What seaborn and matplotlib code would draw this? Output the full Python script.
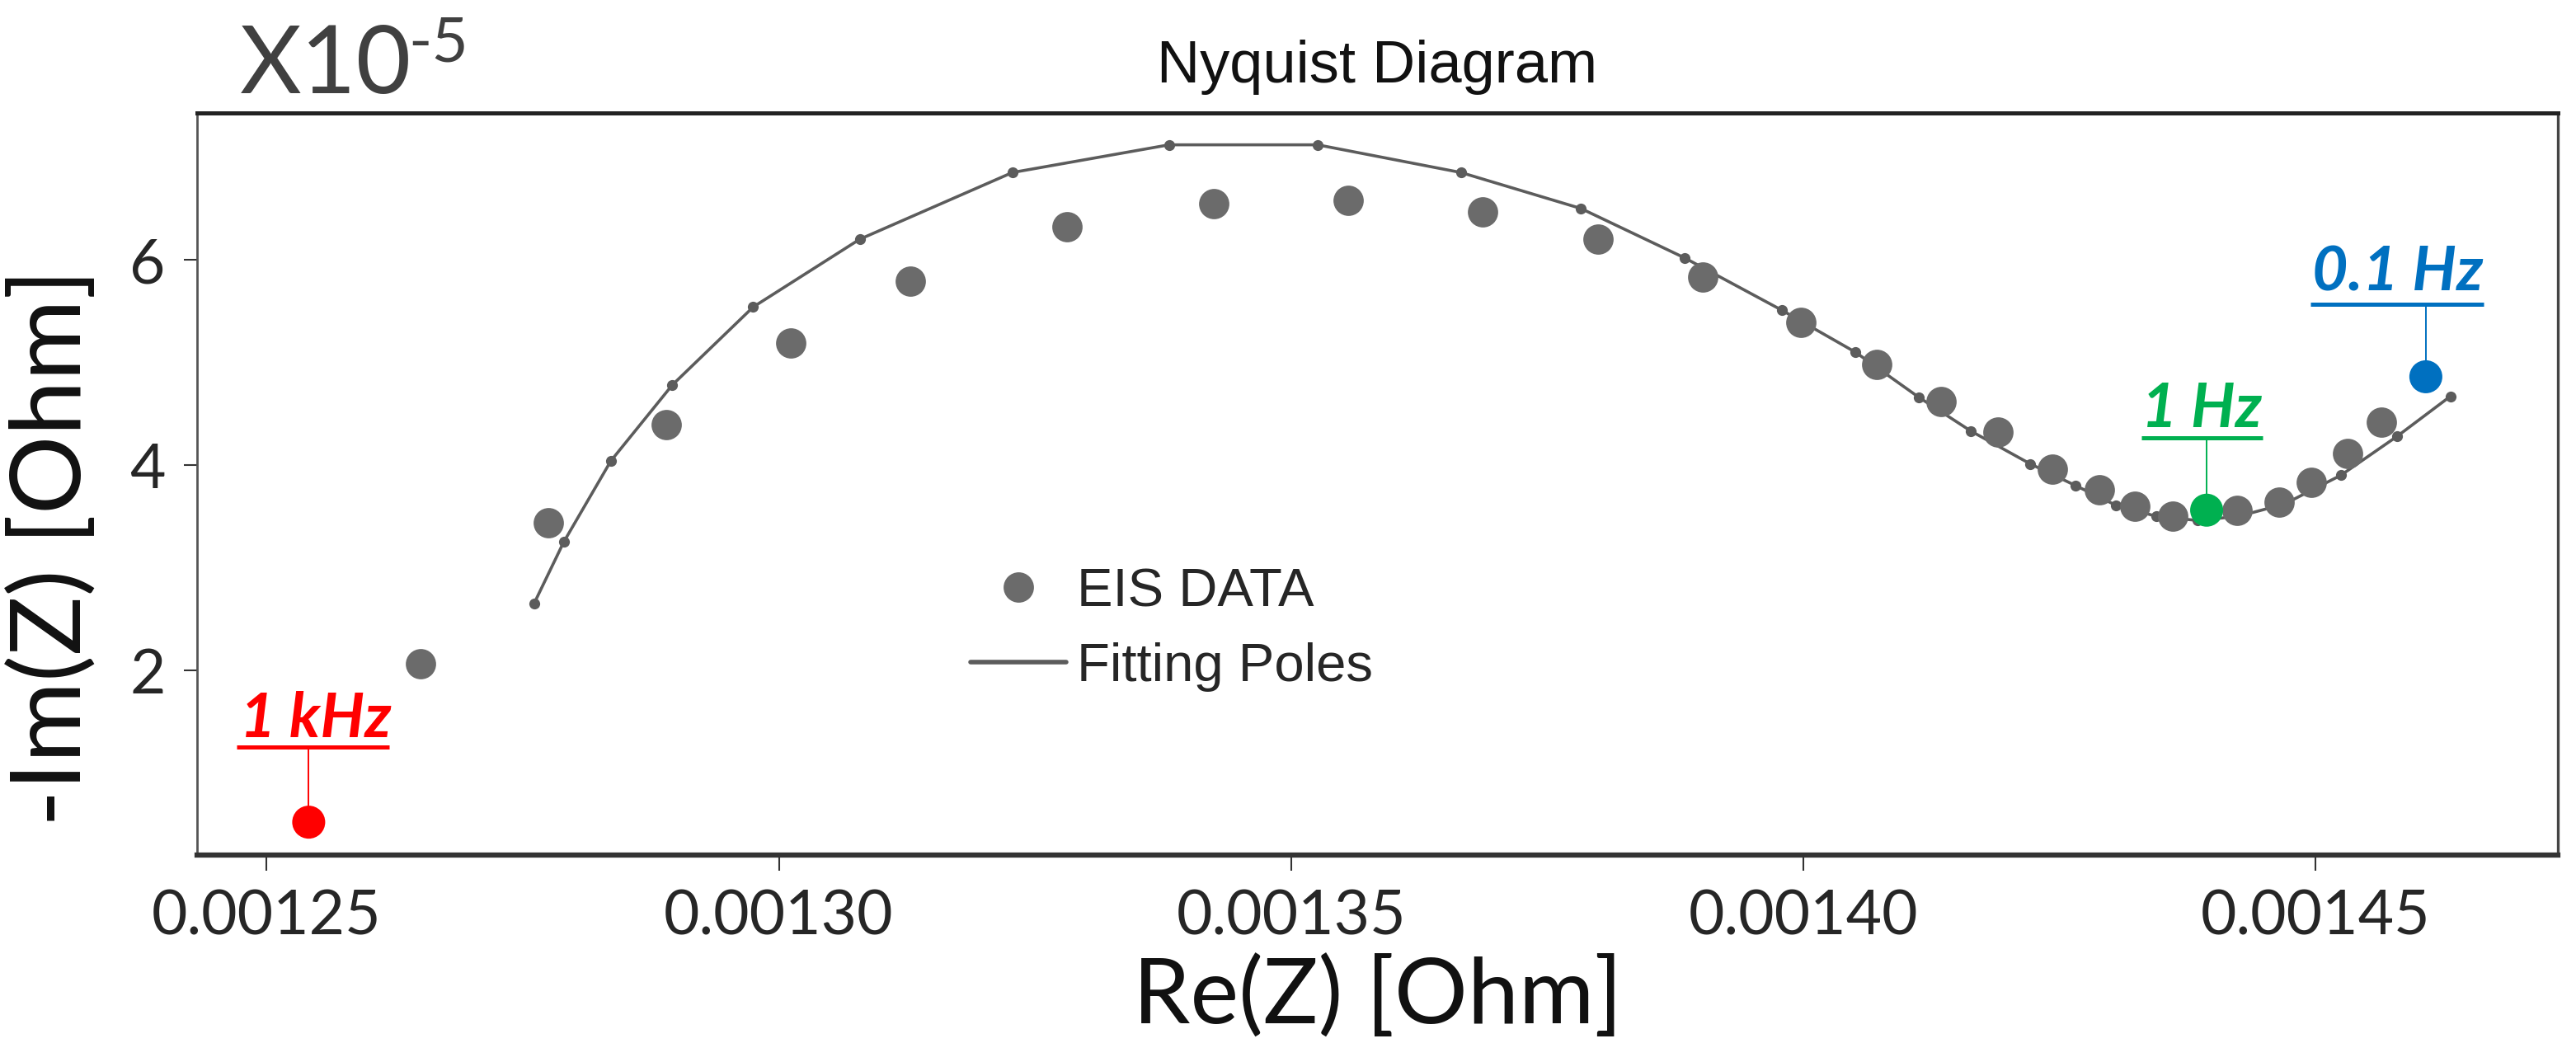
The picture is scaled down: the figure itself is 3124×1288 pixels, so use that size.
import numpy as np
import pandas as pd
import matplotlib.pyplot as plt
import seaborn as sns
from matplotlib.lines import Line2D
from matplotlib.transforms import IdentityTransform
from matplotlib.ticker import FormatStrFormatter

# EIS measured points (grey)
re_data = [0.0012650, 0.0012775, 0.0012890, 0.0013012, 0.0013128, 0.0013281,
           0.0013425, 0.0013556, 0.0013687, 0.0013800, 0.0013902, 0.0013998,
           0.0014072, 0.0014135, 0.0014190, 0.0014243, 0.0014289, 0.0014324,
           0.0014361, 0.0014424, 0.0014465, 0.0014496, 0.0014532, 0.0014565]
im_data = [2.06, 3.44, 4.39, 5.19, 5.79, 6.32, 6.55, 6.58, 6.47, 6.20, 5.83, 5.39,
           4.98, 4.62, 4.32, 3.96, 3.76, 3.60, 3.50, 3.56, 3.64, 3.83, 4.11, 4.42]

# fitted curve
re_fit = [0.0012761, 0.0012790, 0.0012836, 0.0012896, 0.0012975, 0.0013079,
          0.0013228, 0.0013381, 0.0013526, 0.0013666, 0.0013783, 0.0013884,
          0.0013979, 0.0014051, 0.0014113, 0.0014164, 0.0014222, 0.0014266,
          0.0014305, 0.0014345, 0.0014385, 0.0014425, 0.0014470, 0.0014525,
          0.0014580, 0.0014632]
im_fit = [2.65, 3.25, 4.04, 4.78, 5.54, 6.20, 6.85, 7.12, 7.12, 6.85, 6.50, 6.02,
          5.51, 5.10, 4.66, 4.33, 4.01, 3.80, 3.61, 3.50, 3.46, 3.50, 3.62, 3.90,
          4.28, 4.67]

# highlighted frequencies
freq_labels = ['1 kHz', '1 Hz', '0.1 Hz']
freq_re = [0.0012541, 0.0014394, 0.0014608]
freq_im = [0.52, 3.56, 4.86]
freq_colors = ['#ff0000', '#00b050', '#0070c0']

x_ticks = [0.00125, 0.00130, 0.00135, 0.00140, 0.00145]
y_ticks = [2, 4, 6]

sns.set_style('ticks')
plt.rcParams['font.family'] = ['Lato', 'DejaVu Sans']

fig = plt.figure(figsize=(31.24, 12.88), dpi=100)
ax = fig.add_axes([0.0765, 0.1949, 0.9165, 0.6987])

grey_pt = '#6b6b6b'
grey_ln = '#5c5c5c'

sns.lineplot(x=re_fit, y=im_fit, sort=False, color=grey_ln, lw=2.6, marker='o',
             markersize=9.5, markeredgewidth=0, ax=ax, legend=False)
sns.scatterplot(x=re_data, y=im_data, color=grey_pt, s=700, linewidth=0, ax=ax,
                legend=False, zorder=3)
sns.scatterplot(x=freq_re, y=freq_im, hue=freq_labels,
                palette=dict(zip(freq_labels, freq_colors)), s=830, linewidth=0,
                legend=False, ax=ax, zorder=4)

ax.set_xlim(0.0012432, 0.0014737)
ax.set_ylim(0.2, 7.43)
ax.set_xticks(x_ticks)
ax.set_yticks(y_ticks)
ax.xaxis.set_major_formatter(FormatStrFormatter('%.5f'))
ax.tick_params(axis='x', length=14, width=1.5, pad=15, labelsize=54, color='#333333')
ax.tick_params(axis='y', length=11.5, width=1.5, pad=16, labelsize=54, color='#333333')

for side, lw, col in [('top', 3.6, '#222222'), ('bottom', 4.5, '#333333'),
                      ('left', 2.0, '#555555'), ('right', 2.4, '#444444')]:
    ax.spines[side].set_linewidth(lw)
    ax.spines[side].set_color(col)

ax.set_title('Nyquist Diagram', family=['Liberation Sans', 'DejaVu Sans'],
             fontsize=52, pad=27, color='#111111')
ax.set_xlabel('Re(Z) [Ohm]', fontsize=80, color='#111111')
ax.xaxis.set_label_coords(0.5, -0.135)
ax.set_ylabel('-Im(Z) [Ohm]', fontsize=86, color='#111111')
ax.yaxis.set_label_coords(-0.042, 0.415)

fig.text(0.0931, 0.9123, 'X10', fontsize=83, color='#404040', va='baseline')
fig.text(0.1585, 0.9418, '-5', fontsize=55, color='#404040', va='baseline')

eis_handle = Line2D([], [], ls='', marker='o', markersize=26.5, color=grey_pt, mew=0)
fit_handle = Line2D([], [], color=grey_ln, lw=4)
ax.legend(handles=[eis_handle, fit_handle], labels=['EIS DATA', 'Fitting Poles'],
          loc='upper left', bbox_to_anchor=(0.3685, 0.4860),
          bbox_transform=fig.transFigure, frameon=False,
          prop={'family': ['Liberation Sans', 'DejaVu Sans'], 'size': 47},
          handlelength=1.77, handletextpad=0.2, labelspacing=0.47,
          borderaxespad=0, borderpad=0.4)

# frequency call-outs: underline bar, stem and label (offsets in pixels)
callout_style = {
    '1 kHz': dict(bar=(-87, 98), bar_dy=91, text_dx=8, text_dy=103),
    '1 Hz': dict(bar=(-79, 68), bar_dy=88, text_dx=-6, text_dy=101),
    '0.1 Hz': dict(bar=(-140, 70), bar_dy=88, text_dx=-34, text_dy=104),
}
for lab, fx, fy, col in zip(freq_labels, freq_re, freq_im, freq_colors):
    st = callout_style[lab]
    px, py = ax.transData.transform((fx, fy))
    fig.add_artist(Line2D([px + st['bar'][0], px + st['bar'][1]],
                          [py + st['bar_dy']] * 2, transform=IdentityTransform(),
                          color=col, lw=3.6, solid_capstyle='butt'))
    fig.add_artist(Line2D([px, px], [py + st['bar_dy'], py + 15],
                          transform=IdentityTransform(), color=col, lw=1.4))
    fig.text(px + st['text_dx'], py + st['text_dy'], lab, transform=IdentityTransform(),
             ha='center', va='baseline', color=col, fontsize=54,
             fontweight='bold', fontstyle='italic')

fig.savefig('out.png', dpi=100)
